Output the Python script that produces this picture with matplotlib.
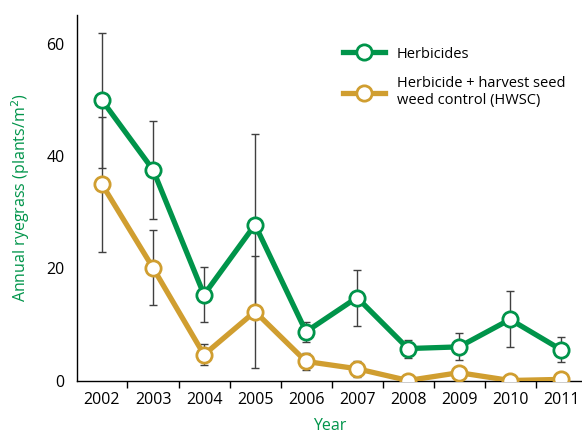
import matplotlib.pyplot as plt
import numpy as np

plt.rcParams['font.family'] = ['Open Sans', 'DejaVu Sans']

years = [2002, 2003, 2004, 2005, 2006, 2007, 2008, 2009, 2010, 2011]
herb = [50.0, 37.6, 15.3, 27.8, 8.7, 14.8, 5.7, 6.0, 10.9, 5.5]
herb_err = [12.0, 8.7, 4.9, 16.2, 1.8, 5.0, 1.6, 2.4, 5.0, 2.2]
hwsc = [35.0, 20.1, 4.6, 12.3, 3.4, 2.1, 0.0, 1.4, 0.0, 0.2]
hwsc_err = [12.0, 6.7, 1.9, 10.0, 1.5, 1.4, 0.0, 0.0, 0.0, 0.0]

green = '#00944a'
gold = '#d09e30'

fig = plt.figure(figsize=(5.82, 4.37), dpi=100)
ax = fig.add_axes([0.1323, 0.128, 0.8677, 0.8375])

for y, e in [(herb, herb_err), (hwsc, hwsc_err)]:
    ax.errorbar(years, y, yerr=e, fmt='none', ecolor='0.25', elinewidth=1,
                capsize=3, capthick=1, zorder=1)

ax.plot(years, herb, color=green, lw=3.8, marker='o', ms=11, mfc='white',
        mec=green, mew=2, label='Herbicides', zorder=3)
ax.plot(years, hwsc, color=gold, lw=3.8, marker='o', ms=11, mfc='white',
        mec=gold, mew=2, label='Herbicide + harvest seed\nweed control (HWSC)',
        zorder=3)

ax.set_xlim(2001.51, 2011.41)
ax.set_ylim(-0.1, 65.2)
ax.set_yticks([0, 20, 40, 60])
ax.set_xticks(years)
ax.set_xticks(np.arange(2002.5, 2011, 1), minor=True)
ax.tick_params(axis='x', which='major', length=0, labelsize=11.5, pad=8)
ax.tick_params(axis='x', which='minor', length=5, width=1)
ax.tick_params(axis='y', length=0, labelsize=11.5, pad=9)
for s in ['top', 'right']:
    ax.spines[s].set_visible(False)
ax.spines['left'].set_linewidth(1)
ax.spines['bottom'].set_linewidth(1)

ax.set_ylabel('Annual ryegrass (plants/m$^2$)', color=green, fontsize=11.5, labelpad=10)
ax.set_xlabel('Year', color=green, fontsize=11.5, labelpad=7)

ax.legend(loc='upper left', bbox_to_anchor=(0.50, 0.95), frameon=False,
          fontsize=10.5, handlelength=2.9, labelspacing=1.0, handletextpad=0.8)

fig.savefig('out.png', dpi=100)
